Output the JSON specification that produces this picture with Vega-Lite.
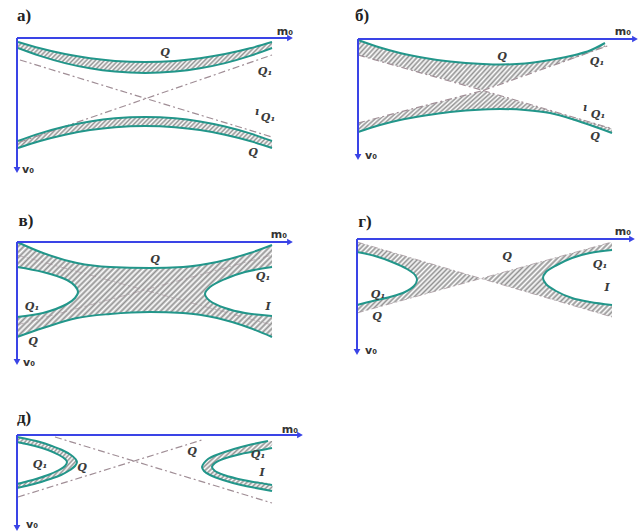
{
"$schema":"https://vega.github.io/schema/vega-lite/v6.json",
"padding":0,
"background":"white",
"config":{"view":{"stroke":null},"concat":{"spacing":0}},
"datasets":{
"c_mL":[{"x":0,"y":2.5},{"x":2.6,"y":3.0},{"x":5.0,"y":3.8},{"x":5.8,"y":4.4},{"x":6.1,"y":5.0},{"x":5.8,"y":5.6},{"x":5.0,"y":6.2},{"x":2.6,"y":7.1},{"x":0,"y":7.5}],
"c_mR":[{"x":25.5,"y":2.5},{"x":22.8,"y":3.0},{"x":20.8,"y":3.7},{"x":19.3,"y":4.5},{"x":18.8,"y":5.2},{"x":19.3,"y":5.9},{"x":20.8,"y":6.6},{"x":22.8,"y":7.1},{"x":25.5,"y":7.4}],
"d_mL":[{"x":0,"y":1.3},{"x":1.8,"y":1.7},{"x":3.5,"y":2.3},{"x":5.0,"y":3.0},{"x":5.8,"y":3.6},{"x":6.0,"y":4.1},{"x":5.7,"y":4.7},{"x":4.8,"y":5.3},{"x":3.3,"y":5.8},{"x":1.6,"y":6.2},{"x":0,"y":6.6}],
"d_mR":[{"x":25.5,"y":1.1},{"x":23.3,"y":1.4},{"x":21.5,"y":1.9},{"x":20.0,"y":2.6},{"x":18.9,"y":3.3},{"x":18.6,"y":3.9},{"x":18.9,"y":4.5},{"x":19.9,"y":5.2},{"x":21.5,"y":5.9},{"x":23.3,"y":6.3},{"x":25.5,"y":6.6}],
"e_lines":[
{"c":"LO","x":0,"y":0.2},{"c":"LO","x":2.3,"y":0.7},{"c":"LO","x":3.5,"y":1.1},{"c":"LO","x":4.5,"y":1.5},{"c":"LO","x":5.4,"y":2.0},{"c":"LO","x":5.85,"y":2.4},{"c":"LO","x":6.0,"y":2.7},{"c":"LO","x":5.8,"y":3.1},{"c":"LO","x":5.3,"y":3.5},{"c":"LO","x":4.4,"y":4.0},{"c":"LO","x":3.3,"y":4.4},{"c":"LO","x":1.7,"y":4.9},{"c":"LO","x":0,"y":5.3},
{"c":"LI","x":0,"y":0.7},{"c":"LI","x":1.8,"y":1.1},{"c":"LI","x":3.1,"y":1.5},{"c":"LI","x":4.2,"y":2.0},{"c":"LI","x":4.8,"y":2.4},{"c":"LI","x":5.0,"y":2.7},{"c":"LI","x":4.8,"y":3.1},{"c":"LI","x":4.2,"y":3.5},{"c":"LI","x":3.1,"y":4.0},{"c":"LI","x":1.9,"y":4.4},{"c":"LI","x":0,"y":4.9},
{"c":"RO","x":25.1,"y":0.6},{"c":"RO","x":23.2,"y":1.0},{"c":"RO","x":21.7,"y":1.4},{"c":"RO","x":20.2,"y":1.9},{"c":"RO","x":19.1,"y":2.4},{"c":"RO","x":18.7,"y":2.8},{"c":"RO","x":18.5,"y":3.2},{"c":"RO","x":18.7,"y":3.6},{"c":"RO","x":19.3,"y":4.0},{"c":"RO","x":20.6,"y":4.5},{"c":"RO","x":22.4,"y":5.0},{"c":"RO","x":25.5,"y":5.6},
{"c":"RI","x":25.5,"y":1.3},{"c":"RI","x":25.0,"y":1.4},{"c":"RI","x":22.4,"y":1.9},{"c":"RI","x":20.6,"y":2.4},{"c":"RI","x":19.8,"y":2.8},{"c":"RI","x":19.5,"y":3.2},{"c":"RI","x":19.8,"y":3.6},{"c":"RI","x":20.7,"y":4.0},{"c":"RI","x":22.6,"y":4.5},{"c":"RI","x":25.5,"y":5.0}
]
},
"spacing":0,
"vconcat":[
{"spacing":0,"hconcat":[
{
"width":335,"height":180,
"data":{"values":[
{"b":"u","x":0.1,"y":0.4,"y2":1.0},{"b":"u","x":2.3,"y":1.03,"y2":1.79},{"b":"u","x":4.8,"y":1.61,"y2":2.51},{"b":"u","x":7.3,"y":2.02,"y2":3.03},{"b":"u","x":9.8,"y":2.29,"y2":3.36},{"b":"u","x":12.8,"y":2.4,"y2":3.5},{"b":"u","x":15.8,"y":2.29,"y2":3.36},{"b":"u","x":18.3,"y":2.02,"y2":3.03},{"b":"u","x":20.8,"y":1.61,"y2":2.51},{"b":"u","x":23.3,"y":1.03,"y2":1.79},{"b":"u","x":25.5,"y":0.4,"y2":1.0},
{"b":"l","x":0.1,"y":10.3,"y2":11.0},{"b":"l","x":2.3,"y":9.54,"y2":10.3},{"b":"l","x":4.8,"y":8.85,"y2":9.67},{"b":"l","x":7.3,"y":8.35,"y2":9.21},{"b":"l","x":9.8,"y":8.03,"y2":8.92},{"b":"l","x":12.8,"y":7.9,"y2":8.8},{"b":"l","x":15.8,"y":8.03,"y2":8.92},{"b":"l","x":18.3,"y":8.35,"y2":9.21},{"b":"l","x":20.8,"y":8.85,"y2":9.67},{"b":"l","x":23.3,"y":9.54,"y2":10.3},{"b":"l","x":25.5,"y":10.3,"y2":11.0}
]},
"encoding":{
"x":{"field":"x","type":"quantitative","scale":{"domain":[-1.7,31.8],"nice":false,"zero":false},"axis":null},
"y":{"field":"y","type":"quantitative","scale":{"domain":[-3.8,14.2],"nice":false,"zero":false,"reverse":true},"axis":null}
},
"layer":[
{"mark":{"type":"area","orient":"vertical","interpolate":"monotone","color":{"gradient":"linear","x1":0,"y1":0,"x2":1.105,"y2":0.134,"stops":[{"offset":0,"color":"#939393"},{"offset":0.008,"color":"#fff"},{"offset":0.016,"color":"#939393"},{"offset":0.024,"color":"#fff"},{"offset":0.032,"color":"#939393"},{"offset":0.04,"color":"#fff"},{"offset":0.048,"color":"#939393"},{"offset":0.056,"color":"#fff"},{"offset":0.064,"color":"#939393"},{"offset":0.072,"color":"#fff"},{"offset":0.08,"color":"#939393"},{"offset":0.088,"color":"#fff"},{"offset":0.096,"color":"#939393"},{"offset":0.104,"color":"#fff"},{"offset":0.112,"color":"#939393"},{"offset":0.12,"color":"#fff"},{"offset":0.128,"color":"#939393"},{"offset":0.136,"color":"#fff"},{"offset":0.144,"color":"#939393"},{"offset":0.152,"color":"#fff"},{"offset":0.16,"color":"#939393"},{"offset":0.168,"color":"#fff"},{"offset":0.176,"color":"#939393"},{"offset":0.184,"color":"#fff"},{"offset":0.192,"color":"#939393"},{"offset":0.2,"color":"#fff"},{"offset":0.208,"color":"#939393"},{"offset":0.216,"color":"#fff"},{"offset":0.224,"color":"#939393"},{"offset":0.232,"color":"#fff"},{"offset":0.24,"color":"#939393"},{"offset":0.248,"color":"#fff"},{"offset":0.256,"color":"#939393"},{"offset":0.264,"color":"#fff"},{"offset":0.272,"color":"#939393"},{"offset":0.28,"color":"#fff"},{"offset":0.288,"color":"#939393"},{"offset":0.296,"color":"#fff"},{"offset":0.304,"color":"#939393"},{"offset":0.312,"color":"#fff"},{"offset":0.32,"color":"#939393"},{"offset":0.328,"color":"#fff"},{"offset":0.336,"color":"#939393"},{"offset":0.344,"color":"#fff"},{"offset":0.352,"color":"#939393"},{"offset":0.36,"color":"#fff"},{"offset":0.368,"color":"#939393"},{"offset":0.376,"color":"#fff"},{"offset":0.384,"color":"#939393"},{"offset":0.392,"color":"#fff"},{"offset":0.4,"color":"#939393"},{"offset":0.408,"color":"#fff"},{"offset":0.416,"color":"#939393"},{"offset":0.424,"color":"#fff"},{"offset":0.432,"color":"#939393"},{"offset":0.44,"color":"#fff"},{"offset":0.448,"color":"#939393"},{"offset":0.456,"color":"#fff"},{"offset":0.464,"color":"#939393"},{"offset":0.472,"color":"#fff"},{"offset":0.48,"color":"#939393"},{"offset":0.488,"color":"#fff"},{"offset":0.496,"color":"#939393"},{"offset":0.504,"color":"#fff"},{"offset":0.512,"color":"#939393"},{"offset":0.52,"color":"#fff"},{"offset":0.528,"color":"#939393"},{"offset":0.536,"color":"#fff"},{"offset":0.544,"color":"#939393"},{"offset":0.552,"color":"#fff"},{"offset":0.56,"color":"#939393"},{"offset":0.568,"color":"#fff"},{"offset":0.576,"color":"#939393"},{"offset":0.584,"color":"#fff"},{"offset":0.592,"color":"#939393"},{"offset":0.6,"color":"#fff"},{"offset":0.608,"color":"#939393"},{"offset":0.616,"color":"#fff"},{"offset":0.624,"color":"#939393"},{"offset":0.632,"color":"#fff"},{"offset":0.64,"color":"#939393"},{"offset":0.648,"color":"#fff"},{"offset":0.656,"color":"#939393"},{"offset":0.664,"color":"#fff"},{"offset":0.672,"color":"#939393"},{"offset":0.68,"color":"#fff"},{"offset":0.688,"color":"#939393"},{"offset":0.696,"color":"#fff"},{"offset":0.704,"color":"#939393"},{"offset":0.712,"color":"#fff"},{"offset":0.72,"color":"#939393"},{"offset":0.728,"color":"#fff"},{"offset":0.736,"color":"#939393"},{"offset":0.744,"color":"#fff"},{"offset":0.752,"color":"#939393"},{"offset":0.76,"color":"#fff"},{"offset":0.768,"color":"#939393"},{"offset":0.776,"color":"#fff"},{"offset":0.784,"color":"#939393"},{"offset":0.792,"color":"#fff"},{"offset":0.8,"color":"#939393"},{"offset":0.808,"color":"#fff"},{"offset":0.816,"color":"#939393"},{"offset":0.824,"color":"#fff"},{"offset":0.832,"color":"#939393"},{"offset":0.84,"color":"#fff"},{"offset":0.848,"color":"#939393"},{"offset":0.856,"color":"#fff"},{"offset":0.864,"color":"#939393"},{"offset":0.872,"color":"#fff"},{"offset":0.88,"color":"#939393"},{"offset":0.888,"color":"#fff"},{"offset":0.896,"color":"#939393"},{"offset":0.904,"color":"#fff"},{"offset":0.912,"color":"#939393"},{"offset":0.92,"color":"#fff"},{"offset":0.928,"color":"#939393"},{"offset":0.936,"color":"#fff"},{"offset":0.944,"color":"#939393"},{"offset":0.952,"color":"#fff"},{"offset":0.96,"color":"#939393"},{"offset":0.968,"color":"#fff"},{"offset":0.976,"color":"#939393"},{"offset":0.984,"color":"#fff"},{"offset":0.992,"color":"#939393"},{"offset":1,"color":"#fff"}]}},"encoding":{"y2":{"field":"y2"},"detail":{"field":"b"}}},
{"data":{"values":[{"x":0.3,"y":2.2,"x2":25.5,"y2":9.9},{"x":0.3,"y":10.4,"x2":25.5,"y2":1.7}]},"mark":{"type":"rule","color":"#a08e96","strokeWidth":1.2,"strokeDash":[7,3,2,3]},"encoding":{"x2":{"field":"x2"},"y2":{"field":"y2"}}},
{"transform":[{"fold":["y","y2"],"as":["e","v"]}],"mark":{"type":"line","color":"#22968a","strokeWidth":2,"interpolate":"monotone"},"encoding":{"y":{"field":"v","type":"quantitative","scale":{"domain":[-3.8,14.2],"nice":false,"zero":false,"reverse":true},"axis":null},"detail":[{"field":"b"},{"field":"e"}]}},
{"data":{"values":[{"x":0,"y":0,"x2":27.3,"y2":0},{"x":0,"y":0,"x2":0,"y2":13.2}]},"mark":{"type":"rule","color":"#3a44e6","strokeWidth":2},"encoding":{"x2":{"field":"x2"},"y2":{"field":"y2"}}},
{"data":{"values":[{"x":27.3,"y":0,"s":"triangle-right"},{"x":0,"y":13.2,"s":"triangle-down"}]},"mark":{"type":"point","filled":true,"color":"#3a44e6","size":45,"opacity":1},"encoding":{"shape":{"field":"s","type":"nominal","scale":null}}},
{"data":{"values":[{"x":14.8,"y":1.5,"t":"Q"},{"x":24.8,"y":3.4,"t":"Q₁"},{"x":24.0,"y":7.4,"t":"ı"},{"x":25.1,"y":8.0,"t":"Q₁"},{"x":23.6,"y":11.5,"t":"Q"}]},"mark":{"type":"text","font":"DejaVu Serif","fontStyle":"italic","fontWeight":"bold","fontSize":11,"color":"#3a3a3a"},"encoding":{"text":{"field":"t"}}},
{"data":{"values":[{"x":26.8,"y":-0.6,"t":"m₀"},{"x":1.1,"y":13.2,"t":"v₀"}]},"mark":{"type":"text","font":"DejaVu Sans","fontWeight":"bold","fontSize":11,"color":"#333333"},"encoding":{"text":{"field":"t"}}},
{"data":{"values":[{"x":0.7,"y":-2.2,"t":"а)"}]},"mark":{"type":"text","font":"Liberation Serif","fontWeight":"bold","fontSize":17,"color":"#222222"},"encoding":{"text":{"field":"t"}}}
]
},
{
"width":307,"height":180,
"data":{"values":[
{"b":"u","x":0,"y":0.1,"y2":1.6},{"b":"u","x":2.2,"y":0.85,"y2":2.22},{"b":"u","x":4.2,"y":1.4,"y2":2.78},{"b":"u","x":6.7,"y":1.9,"y2":3.48},{"b":"u","x":9.2,"y":2.25,"y2":4.18},{"b":"u","x":12.5,"y":2.5,"y2":5.1},{"b":"u","x":14.2,"y":2.55,"y2":4.5},{"b":"u","x":16.7,"y":2.45,"y2":3.61},{"b":"u","x":19.2,"y":2.1,"y2":2.73},{"b":"u","x":21.7,"y":1.6,"y2":1.9},{"b":"u","x":23.2,"y":1.15,"y2":1.36},{"b":"u","x":24.7,"y":0.4,"y2":0.78},
{"b":"l","x":0,"y":8.4,"y2":9.3},{"b":"l","x":2.2,"y":7.84,"y2":8.6},{"b":"l","x":4.2,"y":7.32,"y2":8.1},{"b":"l","x":6.7,"y":6.68,"y2":7.65},{"b":"l","x":9.2,"y":6.04,"y2":7.3},{"b":"l","x":12.5,"y":5.2,"y2":7.05},{"b":"l","x":14.2,"y":5.7,"y2":7.0},{"b":"l","x":16.7,"y":6.42,"y2":7.1},{"b":"l","x":19.2,"y":7.15,"y2":7.4},{"b":"l","x":21.7,"y":7.88,"y2":8.1},{"b":"l","x":23.2,"y":8.31,"y2":8.6},{"b":"l","x":25.4,"y":8.96,"y2":9.4}
]},
"encoding":{
"x":{"field":"x","type":"quantitative","scale":{"domain":[-2.3,28.4],"nice":false,"zero":false},"axis":null},
"y":{"field":"y","type":"quantitative","scale":{"domain":[-3.9,14.1],"nice":false,"zero":false,"reverse":true},"axis":null}
},
"layer":[
{"mark":{"type":"area","orient":"vertical","color":{"gradient":"linear","x1":0,"y1":0,"x2":1.145,"y2":0.211,"stops":[{"offset":0,"color":"#939393"},{"offset":0.008,"color":"#fff"},{"offset":0.016,"color":"#939393"},{"offset":0.024,"color":"#fff"},{"offset":0.032,"color":"#939393"},{"offset":0.04,"color":"#fff"},{"offset":0.048,"color":"#939393"},{"offset":0.056,"color":"#fff"},{"offset":0.064,"color":"#939393"},{"offset":0.072,"color":"#fff"},{"offset":0.08,"color":"#939393"},{"offset":0.088,"color":"#fff"},{"offset":0.096,"color":"#939393"},{"offset":0.104,"color":"#fff"},{"offset":0.112,"color":"#939393"},{"offset":0.12,"color":"#fff"},{"offset":0.128,"color":"#939393"},{"offset":0.136,"color":"#fff"},{"offset":0.144,"color":"#939393"},{"offset":0.152,"color":"#fff"},{"offset":0.16,"color":"#939393"},{"offset":0.168,"color":"#fff"},{"offset":0.176,"color":"#939393"},{"offset":0.184,"color":"#fff"},{"offset":0.192,"color":"#939393"},{"offset":0.2,"color":"#fff"},{"offset":0.208,"color":"#939393"},{"offset":0.216,"color":"#fff"},{"offset":0.224,"color":"#939393"},{"offset":0.232,"color":"#fff"},{"offset":0.24,"color":"#939393"},{"offset":0.248,"color":"#fff"},{"offset":0.256,"color":"#939393"},{"offset":0.264,"color":"#fff"},{"offset":0.272,"color":"#939393"},{"offset":0.28,"color":"#fff"},{"offset":0.288,"color":"#939393"},{"offset":0.296,"color":"#fff"},{"offset":0.304,"color":"#939393"},{"offset":0.312,"color":"#fff"},{"offset":0.32,"color":"#939393"},{"offset":0.328,"color":"#fff"},{"offset":0.336,"color":"#939393"},{"offset":0.344,"color":"#fff"},{"offset":0.352,"color":"#939393"},{"offset":0.36,"color":"#fff"},{"offset":0.368,"color":"#939393"},{"offset":0.376,"color":"#fff"},{"offset":0.384,"color":"#939393"},{"offset":0.392,"color":"#fff"},{"offset":0.4,"color":"#939393"},{"offset":0.408,"color":"#fff"},{"offset":0.416,"color":"#939393"},{"offset":0.424,"color":"#fff"},{"offset":0.432,"color":"#939393"},{"offset":0.44,"color":"#fff"},{"offset":0.448,"color":"#939393"},{"offset":0.456,"color":"#fff"},{"offset":0.464,"color":"#939393"},{"offset":0.472,"color":"#fff"},{"offset":0.48,"color":"#939393"},{"offset":0.488,"color":"#fff"},{"offset":0.496,"color":"#939393"},{"offset":0.504,"color":"#fff"},{"offset":0.512,"color":"#939393"},{"offset":0.52,"color":"#fff"},{"offset":0.528,"color":"#939393"},{"offset":0.536,"color":"#fff"},{"offset":0.544,"color":"#939393"},{"offset":0.552,"color":"#fff"},{"offset":0.56,"color":"#939393"},{"offset":0.568,"color":"#fff"},{"offset":0.576,"color":"#939393"},{"offset":0.584,"color":"#fff"},{"offset":0.592,"color":"#939393"},{"offset":0.6,"color":"#fff"},{"offset":0.608,"color":"#939393"},{"offset":0.616,"color":"#fff"},{"offset":0.624,"color":"#939393"},{"offset":0.632,"color":"#fff"},{"offset":0.64,"color":"#939393"},{"offset":0.648,"color":"#fff"},{"offset":0.656,"color":"#939393"},{"offset":0.664,"color":"#fff"},{"offset":0.672,"color":"#939393"},{"offset":0.68,"color":"#fff"},{"offset":0.688,"color":"#939393"},{"offset":0.696,"color":"#fff"},{"offset":0.704,"color":"#939393"},{"offset":0.712,"color":"#fff"},{"offset":0.72,"color":"#939393"},{"offset":0.728,"color":"#fff"},{"offset":0.736,"color":"#939393"},{"offset":0.744,"color":"#fff"},{"offset":0.752,"color":"#939393"},{"offset":0.76,"color":"#fff"},{"offset":0.768,"color":"#939393"},{"offset":0.776,"color":"#fff"},{"offset":0.784,"color":"#939393"},{"offset":0.792,"color":"#fff"},{"offset":0.8,"color":"#939393"},{"offset":0.808,"color":"#fff"},{"offset":0.816,"color":"#939393"},{"offset":0.824,"color":"#fff"},{"offset":0.832,"color":"#939393"},{"offset":0.84,"color":"#fff"},{"offset":0.848,"color":"#939393"},{"offset":0.856,"color":"#fff"},{"offset":0.864,"color":"#939393"},{"offset":0.872,"color":"#fff"},{"offset":0.88,"color":"#939393"},{"offset":0.888,"color":"#fff"},{"offset":0.896,"color":"#939393"},{"offset":0.904,"color":"#fff"},{"offset":0.912,"color":"#939393"},{"offset":0.92,"color":"#fff"},{"offset":0.928,"color":"#939393"},{"offset":0.936,"color":"#fff"},{"offset":0.944,"color":"#939393"},{"offset":0.952,"color":"#fff"},{"offset":0.96,"color":"#939393"},{"offset":0.968,"color":"#fff"},{"offset":0.976,"color":"#939393"},{"offset":0.984,"color":"#fff"},{"offset":0.992,"color":"#939393"},{"offset":1,"color":"#fff"}]}},"encoding":{"y2":{"field":"y2"},"detail":{"field":"b"}}},
{"data":{"values":[{"x":0,"y":1.6,"x2":12.5,"y2":5.15},{"x":12.5,"y":5.15,"x2":25.4,"y2":8.96},{"x":0,"y":8.4,"x2":12.5,"y2":5.15},{"x":12.5,"y":5.15,"x2":25.2,"y2":0.6}]},"mark":{"type":"rule","color":"#a08e96","strokeWidth":1.2,"strokeDash":[7,3,2,3]},"encoding":{"x2":{"field":"x2"},"y2":{"field":"y2"}}},
{"transform":[{"fold":["y","y2"],"as":["e","v"]},{"filter":"(datum.b=='u' && datum.e=='y') || (datum.b=='l' && datum.e=='y2')"}],"mark":{"type":"line","color":"#22968a","strokeWidth":2,"interpolate":"monotone"},"encoding":{"y":{"field":"v","type":"quantitative","scale":{"domain":[-3.9,14.1],"nice":false,"zero":false,"reverse":true},"axis":null},"detail":[{"field":"b"},{"field":"e"}]}},
{"data":{"values":[{"x":0,"y":0,"x2":27.7,"y2":0},{"x":0,"y":0,"x2":0,"y2":11.8}]},"mark":{"type":"rule","color":"#3a44e6","strokeWidth":2},"encoding":{"x2":{"field":"x2"},"y2":{"field":"y2"}}},
{"data":{"values":[{"x":27.7,"y":0,"s":"triangle-right"},{"x":0,"y":11.8,"s":"triangle-down"}]},"mark":{"type":"point","filled":true,"color":"#3a44e6","size":45,"opacity":1},"encoding":{"shape":{"field":"s","type":"nominal","scale":null}}},
{"data":{"values":[{"x":14.4,"y":1.8,"t":"Q"},{"x":23.9,"y":2.3,"t":"Q₁"},{"x":22.7,"y":6.9,"t":"ı"},{"x":24.0,"y":7.6,"t":"Q₁"},{"x":23.7,"y":9.8,"t":"Q"}]},"mark":{"type":"text","font":"DejaVu Serif","fontStyle":"italic","fontWeight":"bold","fontSize":11,"color":"#3a3a3a"},"encoding":{"text":{"field":"t"}}},
{"data":{"values":[{"x":26.5,"y":-0.7,"t":"m₀"},{"x":1.3,"y":11.7,"t":"v₀"}]},"mark":{"type":"text","font":"DejaVu Sans","fontWeight":"bold","fontSize":11,"color":"#333333"},"encoding":{"text":{"field":"t"}}},
{"data":{"values":[{"x":0.4,"y":-2.3,"t":"б)"}]},"mark":{"type":"text","font":"Liberation Serif","fontWeight":"bold","fontSize":17,"color":"#222222"},"encoding":{"text":{"field":"t"}}}
]
}
]},
{"spacing":0,"hconcat":[
{
"width":335,"height":205,
"data":{"values":[
{"b":"m","x":0,"y":0,"y2":9.5},{"b":"m","x":2.6,"y":1.1,"y2":8.6},{"b":"m","x":6.0,"y":2.1,"y2":7.6},{"b":"m","x":9.3,"y":2.5,"y2":7.2},{"b":"m","x":13.3,"y":2.6,"y2":7.0},{"b":"m","x":16.6,"y":2.5,"y2":7.1},{"b":"m","x":20.0,"y":2.0,"y2":7.6},{"b":"m","x":23.3,"y":1.1,"y2":8.6},{"b":"m","x":25.5,"y":0.3,"y2":9.5}
]},
"encoding":{
"x":{"field":"x","type":"quantitative","scale":{"domain":[-1.7,31.8],"nice":false,"zero":false},"axis":null},
"y":{"field":"y","type":"quantitative","scale":{"domain":[-6.2,14.3],"nice":false,"zero":false,"reverse":true},"axis":null}
},
"layer":[
{"mark":{"type":"area","orient":"vertical","interpolate":"monotone","color":{"gradient":"linear","x1":0,"y1":0,"x2":1.205,"y2":0.449,"stops":[{"offset":0,"color":"#939393"},{"offset":0.008,"color":"#fff"},{"offset":0.016,"color":"#939393"},{"offset":0.024,"color":"#fff"},{"offset":0.032,"color":"#939393"},{"offset":0.04,"color":"#fff"},{"offset":0.048,"color":"#939393"},{"offset":0.056,"color":"#fff"},{"offset":0.064,"color":"#939393"},{"offset":0.072,"color":"#fff"},{"offset":0.08,"color":"#939393"},{"offset":0.088,"color":"#fff"},{"offset":0.096,"color":"#939393"},{"offset":0.104,"color":"#fff"},{"offset":0.112,"color":"#939393"},{"offset":0.12,"color":"#fff"},{"offset":0.128,"color":"#939393"},{"offset":0.136,"color":"#fff"},{"offset":0.144,"color":"#939393"},{"offset":0.152,"color":"#fff"},{"offset":0.16,"color":"#939393"},{"offset":0.168,"color":"#fff"},{"offset":0.176,"color":"#939393"},{"offset":0.184,"color":"#fff"},{"offset":0.192,"color":"#939393"},{"offset":0.2,"color":"#fff"},{"offset":0.208,"color":"#939393"},{"offset":0.216,"color":"#fff"},{"offset":0.224,"color":"#939393"},{"offset":0.232,"color":"#fff"},{"offset":0.24,"color":"#939393"},{"offset":0.248,"color":"#fff"},{"offset":0.256,"color":"#939393"},{"offset":0.264,"color":"#fff"},{"offset":0.272,"color":"#939393"},{"offset":0.28,"color":"#fff"},{"offset":0.288,"color":"#939393"},{"offset":0.296,"color":"#fff"},{"offset":0.304,"color":"#939393"},{"offset":0.312,"color":"#fff"},{"offset":0.32,"color":"#939393"},{"offset":0.328,"color":"#fff"},{"offset":0.336,"color":"#939393"},{"offset":0.344,"color":"#fff"},{"offset":0.352,"color":"#939393"},{"offset":0.36,"color":"#fff"},{"offset":0.368,"color":"#939393"},{"offset":0.376,"color":"#fff"},{"offset":0.384,"color":"#939393"},{"offset":0.392,"color":"#fff"},{"offset":0.4,"color":"#939393"},{"offset":0.408,"color":"#fff"},{"offset":0.416,"color":"#939393"},{"offset":0.424,"color":"#fff"},{"offset":0.432,"color":"#939393"},{"offset":0.44,"color":"#fff"},{"offset":0.448,"color":"#939393"},{"offset":0.456,"color":"#fff"},{"offset":0.464,"color":"#939393"},{"offset":0.472,"color":"#fff"},{"offset":0.48,"color":"#939393"},{"offset":0.488,"color":"#fff"},{"offset":0.496,"color":"#939393"},{"offset":0.504,"color":"#fff"},{"offset":0.512,"color":"#939393"},{"offset":0.52,"color":"#fff"},{"offset":0.528,"color":"#939393"},{"offset":0.536,"color":"#fff"},{"offset":0.544,"color":"#939393"},{"offset":0.552,"color":"#fff"},{"offset":0.56,"color":"#939393"},{"offset":0.568,"color":"#fff"},{"offset":0.576,"color":"#939393"},{"offset":0.584,"color":"#fff"},{"offset":0.592,"color":"#939393"},{"offset":0.6,"color":"#fff"},{"offset":0.608,"color":"#939393"},{"offset":0.616,"color":"#fff"},{"offset":0.624,"color":"#939393"},{"offset":0.632,"color":"#fff"},{"offset":0.64,"color":"#939393"},{"offset":0.648,"color":"#fff"},{"offset":0.656,"color":"#939393"},{"offset":0.664,"color":"#fff"},{"offset":0.672,"color":"#939393"},{"offset":0.68,"color":"#fff"},{"offset":0.688,"color":"#939393"},{"offset":0.696,"color":"#fff"},{"offset":0.704,"color":"#939393"},{"offset":0.712,"color":"#fff"},{"offset":0.72,"color":"#939393"},{"offset":0.728,"color":"#fff"},{"offset":0.736,"color":"#939393"},{"offset":0.744,"color":"#fff"},{"offset":0.752,"color":"#939393"},{"offset":0.76,"color":"#fff"},{"offset":0.768,"color":"#939393"},{"offset":0.776,"color":"#fff"},{"offset":0.784,"color":"#939393"},{"offset":0.792,"color":"#fff"},{"offset":0.8,"color":"#939393"},{"offset":0.808,"color":"#fff"},{"offset":0.816,"color":"#939393"},{"offset":0.824,"color":"#fff"},{"offset":0.832,"color":"#939393"},{"offset":0.84,"color":"#fff"},{"offset":0.848,"color":"#939393"},{"offset":0.856,"color":"#fff"},{"offset":0.864,"color":"#939393"},{"offset":0.872,"color":"#fff"},{"offset":0.88,"color":"#939393"},{"offset":0.888,"color":"#fff"},{"offset":0.896,"color":"#939393"},{"offset":0.904,"color":"#fff"},{"offset":0.912,"color":"#939393"},{"offset":0.92,"color":"#fff"},{"offset":0.928,"color":"#939393"},{"offset":0.936,"color":"#fff"},{"offset":0.944,"color":"#939393"},{"offset":0.952,"color":"#fff"},{"offset":0.96,"color":"#939393"},{"offset":0.968,"color":"#fff"},{"offset":0.976,"color":"#939393"},{"offset":0.984,"color":"#fff"},{"offset":0.992,"color":"#939393"},{"offset":1,"color":"#fff"}]}},"encoding":{"y2":{"field":"y2"},"detail":{"field":"b"}}},
{"data":{"values":[{"x":0,"y":1.3,"x2":25.5,"y2":8.3},{"x":0,"y":8.3,"x2":25.5,"y2":1.3}]},"mark":{"type":"rule","color":"#a08e96","strokeWidth":1,"strokeDash":[7,3,2,3],"opacity":0.6},"encoding":{"x2":{"field":"x2"},"y2":{"field":"y2"}}},
{"data":{"name":"c_mL"},"mark":{"type":"area","orient":"horizontal","color":"white","interpolate":"catmull-rom"},"encoding":{"x2":{"datum":0}}},
{"data":{"name":"c_mR"},"mark":{"type":"area","orient":"horizontal","color":"white","interpolate":"catmull-rom"},"encoding":{"x2":{"datum":25.5}}},
{"data":{"name":"c_mL"},"mark":{"type":"line","color":"#22968a","strokeWidth":2,"interpolate":"catmull-rom"},"encoding":{"order":{"field":"y"}}},
{"data":{"name":"c_mR"},"mark":{"type":"line","color":"#22968a","strokeWidth":2,"interpolate":"catmull-rom"},"encoding":{"order":{"field":"y"}}},
{"transform":[{"fold":["y","y2"],"as":["e","v"]}],"mark":{"type":"line","color":"#22968a","strokeWidth":2,"interpolate":"monotone"},"encoding":{"y":{"field":"v","type":"quantitative","scale":{"domain":[-6.2,14.3],"nice":false,"zero":false,"reverse":true},"axis":null},"detail":[{"field":"b"},{"field":"e"}]}},
{"data":{"values":[{"x":0,"y":0,"x2":27.3,"y2":0},{"x":0,"y":0,"x2":0,"y2":12.0}]},"mark":{"type":"rule","color":"#3a44e6","strokeWidth":2},"encoding":{"x2":{"field":"x2"},"y2":{"field":"y2"}}},
{"data":{"values":[{"x":27.3,"y":0,"s":"triangle-right"},{"x":0,"y":12.0,"s":"triangle-down"}]},"mark":{"type":"point","filled":true,"color":"#3a44e6","size":45,"opacity":1},"encoding":{"shape":{"field":"s","type":"nominal","scale":null}}},
{"data":{"values":[{"x":13.8,"y":1.8,"t":"Q"},{"x":24.6,"y":3.5,"t":"Q₁"},{"x":25.1,"y":6.5,"t":"I"},{"x":1.5,"y":6.5,"t":"Q₁"},{"x":1.6,"y":10.0,"t":"Q"}]},"mark":{"type":"text","font":"DejaVu Serif","fontStyle":"italic","fontWeight":"bold","fontSize":11,"color":"#3a3a3a"},"encoding":{"text":{"field":"t"}}},
{"data":{"values":[{"x":26.2,"y":-0.7,"t":"m₀"},{"x":1.2,"y":12.1,"t":"v₀"}]},"mark":{"type":"text","font":"DejaVu Sans","fontWeight":"bold","fontSize":11,"color":"#333333"},"encoding":{"text":{"field":"t"}}},
{"data":{"values":[{"x":0.9,"y":-2.1,"t":"в)"}]},"mark":{"type":"text","font":"Liberation Serif","fontWeight":"bold","fontSize":17,"color":"#222222"},"encoding":{"text":{"field":"t"}}}
]
},
{
"width":307,"height":205,
"data":{"values":[
{"b":"L","x":0,"y":0.3,"y2":7.4},{"b":"L","x":12.4,"y":3.95,"y2":3.95},{"b":"R","x":12.4,"y":3.95,"y2":3.95},{"b":"R","x":25.5,"y":0.3,"y2":7.8}
]},
"encoding":{
"x":{"field":"x","type":"quantitative","scale":{"domain":[-2.2,28.5],"nice":false,"zero":false},"axis":null},
"y":{"field":"y","type":"quantitative","scale":{"domain":[-5.9,14.6],"nice":false,"zero":false,"reverse":true},"axis":null}
},
"layer":[
{"mark":{"type":"area","orient":"vertical","color":{"gradient":"linear","x1":0,"y1":0,"x2":1.185,"y2":0.675,"stops":[{"offset":0,"color":"#939393"},{"offset":0.0125,"color":"#fff"},{"offset":0.025,"color":"#939393"},{"offset":0.0375,"color":"#fff"},{"offset":0.05,"color":"#939393"},{"offset":0.0625,"color":"#fff"},{"offset":0.075,"color":"#939393"},{"offset":0.0875,"color":"#fff"},{"offset":0.1,"color":"#939393"},{"offset":0.1125,"color":"#fff"},{"offset":0.125,"color":"#939393"},{"offset":0.1375,"color":"#fff"},{"offset":0.15,"color":"#939393"},{"offset":0.1625,"color":"#fff"},{"offset":0.175,"color":"#939393"},{"offset":0.1875,"color":"#fff"},{"offset":0.2,"color":"#939393"},{"offset":0.2125,"color":"#fff"},{"offset":0.225,"color":"#939393"},{"offset":0.2375,"color":"#fff"},{"offset":0.25,"color":"#939393"},{"offset":0.2625,"color":"#fff"},{"offset":0.275,"color":"#939393"},{"offset":0.2875,"color":"#fff"},{"offset":0.3,"color":"#939393"},{"offset":0.3125,"color":"#fff"},{"offset":0.325,"color":"#939393"},{"offset":0.3375,"color":"#fff"},{"offset":0.35,"color":"#939393"},{"offset":0.3625,"color":"#fff"},{"offset":0.375,"color":"#939393"},{"offset":0.3875,"color":"#fff"},{"offset":0.4,"color":"#939393"},{"offset":0.4125,"color":"#fff"},{"offset":0.425,"color":"#939393"},{"offset":0.4375,"color":"#fff"},{"offset":0.45,"color":"#939393"},{"offset":0.4625,"color":"#fff"},{"offset":0.475,"color":"#939393"},{"offset":0.4875,"color":"#fff"},{"offset":0.5,"color":"#939393"},{"offset":0.5125,"color":"#fff"},{"offset":0.525,"color":"#939393"},{"offset":0.5375,"color":"#fff"},{"offset":0.55,"color":"#939393"},{"offset":0.5625,"color":"#fff"},{"offset":0.575,"color":"#939393"},{"offset":0.5875,"color":"#fff"},{"offset":0.6,"color":"#939393"},{"offset":0.6125,"color":"#fff"},{"offset":0.625,"color":"#939393"},{"offset":0.6375,"color":"#fff"},{"offset":0.65,"color":"#939393"},{"offset":0.6625,"color":"#fff"},{"offset":0.675,"color":"#939393"},{"offset":0.6875,"color":"#fff"},{"offset":0.7,"color":"#939393"},{"offset":0.7125,"color":"#fff"},{"offset":0.725,"color":"#939393"},{"offset":0.7375,"color":"#fff"},{"offset":0.75,"color":"#939393"},{"offset":0.7625,"color":"#fff"},{"offset":0.775,"color":"#939393"},{"offset":0.7875,"color":"#fff"},{"offset":0.8,"color":"#939393"},{"offset":0.8125,"color":"#fff"},{"offset":0.825,"color":"#939393"},{"offset":0.8375,"color":"#fff"},{"offset":0.85,"color":"#939393"},{"offset":0.8625,"color":"#fff"},{"offset":0.875,"color":"#939393"},{"offset":0.8875,"color":"#fff"},{"offset":0.9,"color":"#939393"},{"offset":0.9125,"color":"#fff"},{"offset":0.925,"color":"#939393"},{"offset":0.9375,"color":"#fff"},{"offset":0.95,"color":"#939393"},{"offset":0.9625,"color":"#fff"},{"offset":0.975,"color":"#939393"},{"offset":0.9875,"color":"#fff"},{"offset":1,"color":"#939393"}]}},"encoding":{"y2":{"field":"y2"},"detail":{"field":"b"}}},
{"data":{"values":[{"x":0,"y":0.3,"x2":25.5,"y2":7.8},{"x":0,"y":7.4,"x2":25.5,"y2":0.3}]},"mark":{"type":"rule","color":"#a08e96","strokeWidth":1,"strokeDash":[7,3,2,3],"opacity":0.7},"encoding":{"x2":{"field":"x2"},"y2":{"field":"y2"}}},
{"data":{"name":"d_mL"},"mark":{"type":"area","orient":"horizontal","color":"white","interpolate":"catmull-rom"},"encoding":{"x2":{"datum":0}}},
{"data":{"name":"d_mR"},"mark":{"type":"area","orient":"horizontal","color":"white","interpolate":"catmull-rom"},"encoding":{"x2":{"datum":25.5}}},
{"data":{"name":"d_mL"},"mark":{"type":"line","color":"#22968a","strokeWidth":2,"interpolate":"catmull-rom"},"encoding":{"order":{"field":"y"}}},
{"data":{"name":"d_mR"},"mark":{"type":"line","color":"#22968a","strokeWidth":2,"interpolate":"catmull-rom"},"encoding":{"order":{"field":"y"}}},
{"data":{"values":[{"x":0,"y":0,"x2":27.5,"y2":0},{"x":0,"y":0,"x2":0,"y2":11.3}]},"mark":{"type":"rule","color":"#3a44e6","strokeWidth":2},"encoding":{"x2":{"field":"x2"},"y2":{"field":"y2"}}},
{"data":{"values":[{"x":27.5,"y":0,"s":"triangle-right"},{"x":0,"y":11.3,"s":"triangle-down"}]},"mark":{"type":"point","filled":true,"color":"#3a44e6","size":45,"opacity":1},"encoding":{"shape":{"field":"s","type":"nominal","scale":null}}},
{"data":{"values":[{"x":15.0,"y":1.8,"t":"Q"},{"x":24.3,"y":2.6,"t":"Q₁"},{"x":25.0,"y":4.9,"t":"I"},{"x":2.1,"y":5.6,"t":"Q₁"},{"x":2.0,"y":7.8,"t":"Q"}]},"mark":{"type":"text","font":"DejaVu Serif","fontStyle":"italic","fontWeight":"bold","fontSize":11,"color":"#3a3a3a"},"encoding":{"text":{"field":"t"}}},
{"data":{"values":[{"x":26.6,"y":-0.7,"t":"m₀"},{"x":1.4,"y":11.2,"t":"v₀"}]},"mark":{"type":"text","font":"DejaVu Sans","fontWeight":"bold","fontSize":11,"color":"#333333"},"encoding":{"text":{"field":"t"}}},
{"data":{"values":[{"x":0.8,"y":-1.7,"t":"г)"}]},"mark":{"type":"text","font":"Liberation Serif","fontWeight":"bold","fontSize":17,"color":"#222222"},"encoding":{"text":{"field":"t"}}}
]
}
]},
{
"width":335,"height":146,
"data":{"values":[
{"b":"L","y":0.2,"x":0,"xi":0},{"b":"L","y":0.7,"x":2.3,"xi":0},{"b":"L","y":1.1,"x":3.5,"xi":1.8},{"b":"L","y":1.5,"x":4.5,"xi":3.1},{"b":"L","y":2.0,"x":5.4,"xi":4.2},{"b":"L","y":2.4,"x":5.85,"xi":4.8},{"b":"L","y":2.7,"x":6.0,"xi":5.0},{"b":"L","y":3.1,"x":5.8,"xi":4.8},{"b":"L","y":3.5,"x":5.3,"xi":4.2},{"b":"L","y":4.0,"x":4.4,"xi":3.1},{"b":"L","y":4.4,"x":3.3,"xi":1.9},{"b":"L","y":4.9,"x":1.7,"xi":0},{"b":"L","y":5.3,"x":0,"xi":0},
{"b":"R","y":0.6,"x":25.1,"xi":25.5},{"b":"R","y":1.0,"x":23.2,"xi":25.5},{"b":"R","y":1.4,"x":21.7,"xi":25.0},{"b":"R","y":1.9,"x":20.2,"xi":22.4},{"b":"R","y":2.4,"x":19.1,"xi":20.6},{"b":"R","y":2.8,"x":18.7,"xi":19.8},{"b":"R","y":3.2,"x":18.5,"xi":19.5},{"b":"R","y":3.6,"x":18.7,"xi":19.8},{"b":"R","y":4.0,"x":19.3,"xi":20.7},{"b":"R","y":4.5,"x":20.6,"xi":22.6},{"b":"R","y":5.0,"x":22.4,"xi":25.5},{"b":"R","y":5.6,"x":25.5,"xi":25.5}
]},
"encoding":{
"x":{"field":"x","type":"quantitative","scale":{"domain":[-1.7,31.8],"nice":false,"zero":false},"axis":null},
"y":{"field":"y","type":"quantitative","scale":{"domain":[-5.0,9.6],"nice":false,"zero":false,"reverse":true},"axis":null}
},
"layer":[
{"mark":{"type":"area","orient":"horizontal","interpolate":"catmull-rom","color":{"gradient":"linear","x1":0,"y1":0,"x2":1.111,"y2":0.856,"stops":[{"offset":0,"color":"#939393"},{"offset":0.02,"color":"#fff"},{"offset":0.04,"color":"#939393"},{"offset":0.06,"color":"#fff"},{"offset":0.08,"color":"#939393"},{"offset":0.1,"color":"#fff"},{"offset":0.12,"color":"#939393"},{"offset":0.14,"color":"#fff"},{"offset":0.16,"color":"#939393"},{"offset":0.18,"color":"#fff"},{"offset":0.2,"color":"#939393"},{"offset":0.22,"color":"#fff"},{"offset":0.24,"color":"#939393"},{"offset":0.26,"color":"#fff"},{"offset":0.28,"color":"#939393"},{"offset":0.3,"color":"#fff"},{"offset":0.32,"color":"#939393"},{"offset":0.34,"color":"#fff"},{"offset":0.36,"color":"#939393"},{"offset":0.38,"color":"#fff"},{"offset":0.4,"color":"#939393"},{"offset":0.42,"color":"#fff"},{"offset":0.44,"color":"#939393"},{"offset":0.46,"color":"#fff"},{"offset":0.48,"color":"#939393"},{"offset":0.5,"color":"#fff"},{"offset":0.52,"color":"#939393"},{"offset":0.54,"color":"#fff"},{"offset":0.56,"color":"#939393"},{"offset":0.58,"color":"#fff"},{"offset":0.6,"color":"#939393"},{"offset":0.62,"color":"#fff"},{"offset":0.64,"color":"#939393"},{"offset":0.66,"color":"#fff"},{"offset":0.68,"color":"#939393"},{"offset":0.7,"color":"#fff"},{"offset":0.72,"color":"#939393"},{"offset":0.74,"color":"#fff"},{"offset":0.76,"color":"#939393"},{"offset":0.78,"color":"#fff"},{"offset":0.8,"color":"#939393"},{"offset":0.82,"color":"#fff"},{"offset":0.84,"color":"#939393"},{"offset":0.86,"color":"#fff"},{"offset":0.88,"color":"#939393"},{"offset":0.9,"color":"#fff"},{"offset":0.92,"color":"#939393"},{"offset":0.94,"color":"#fff"},{"offset":0.96,"color":"#939393"},{"offset":0.98,"color":"#fff"},{"offset":1,"color":"#939393"}]}},"encoding":{"x2":{"field":"xi"},"detail":{"field":"b"}}},
{"data":{"values":[{"x":3.8,"y":0.2,"x2":25.5,"y2":6.8},{"x":0.1,"y":6.2,"x2":18.5,"y2":0.5}]},"mark":{"type":"rule","color":"#a08e96","strokeWidth":1.2,"strokeDash":[7,3,2,3]},"encoding":{"x2":{"field":"x2"},"y2":{"field":"y2"}}},
{"data":{"name":"e_lines"},"mark":{"type":"line","color":"#22968a","strokeWidth":2,"interpolate":"catmull-rom"},"encoding":{"order":{"field":"y"},"detail":{"field":"c"}}},
{"data":{"values":[{"x":0,"y":0,"x2":28.3,"y2":0},{"x":0,"y":0,"x2":0,"y2":9.3}]},"mark":{"type":"rule","color":"#3a44e6","strokeWidth":2},"encoding":{"x2":{"field":"x2"},"y2":{"field":"y2"}}},
{"data":{"values":[{"x":28.3,"y":0,"s":"triangle-right"},{"x":0,"y":9.3,"s":"triangle-down"}]},"mark":{"type":"point","filled":true,"color":"#3a44e6","size":45,"opacity":1},"encoding":{"shape":{"field":"s","type":"nominal","scale":null}}},
{"data":{"values":[{"x":2.3,"y":3.0,"t":"Q₁"},{"x":6.5,"y":3.3,"t":"Q"},{"x":17.5,"y":1.7,"t":"Q"},{"x":24.1,"y":2.0,"t":"Q₁"},{"x":24.5,"y":3.8,"t":"I"}]},"mark":{"type":"text","font":"DejaVu Serif","fontStyle":"italic","fontWeight":"bold","fontSize":11,"color":"#3a3a3a"},"encoding":{"text":{"field":"t"}}},
{"data":{"values":[{"x":27.3,"y":-0.5,"t":"m₀"},{"x":1.5,"y":9.0,"t":"v₀"}]},"mark":{"type":"text","font":"DejaVu Sans","fontWeight":"bold","fontSize":11,"color":"#333333"},"encoding":{"text":{"field":"t"}}},
{"data":{"values":[{"x":0.7,"y":-1.7,"t":"д)"}]},"mark":{"type":"text","font":"Liberation Serif","fontWeight":"bold","fontSize":17,"color":"#222222"},"encoding":{"text":{"field":"t"}}}
]
}
]
}
